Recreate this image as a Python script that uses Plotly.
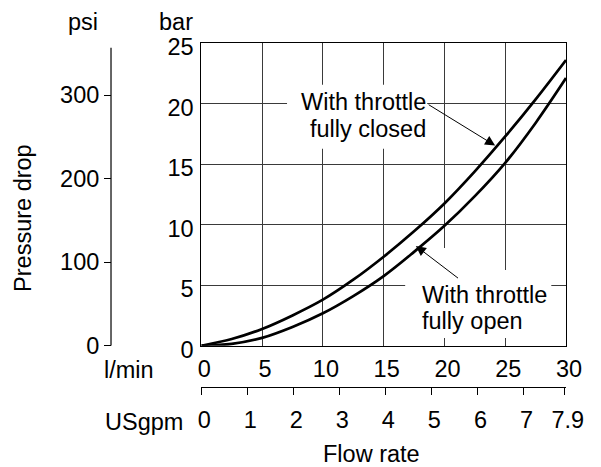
import plotly.graph_objects as go

# ---- data ----
flow_lpm = [0, 2.5, 5, 7.5, 10, 12.5, 15, 17.5, 20, 22.5, 25, 27.5, 30]
dp_closed_bar = [0, 0.55, 1.38, 2.5, 3.8, 5.45, 7.35, 9.45, 11.75, 14.4, 17.28, 20.35, 23.6]
dp_open_bar = [0, 0.15, 0.65, 1.55, 2.68, 4.1, 5.75, 7.75, 9.9, 12.35, 15.1, 18.4, 22.1]

bar_ticks = [0, 5, 10, 15, 20, 25]
psi_ticks = [0, 100, 200, 300]
lpm_ticks = [0, 5, 10, 15, 20, 25, 30]
gpm_ticks = [0, 1, 2, 3, 4, 5, 6, 7, 7.9]

label_closed = ["With throttle", "fully closed"]
label_open = ["With throttle", "fully open"]

PSI_PER_BAR = 14.5038
LPM_PER_GPM = 3.785411784

FONT = "Liberation Sans, Arial, Helvetica, sans-serif"
FS = 23.5

fig = go.Figure()
fig.add_trace(go.Scatter(x=flow_lpm, y=dp_closed_bar, mode="lines",
                         line=dict(color="black", width=2.7, shape="spline"),
                         hoverinfo="skip", showlegend=False))
fig.add_trace(go.Scatter(x=flow_lpm, y=dp_open_bar, mode="lines",
                         line=dict(color="black", width=2.7, shape="spline"),
                         hoverinfo="skip", showlegend=False))
# invisible traces to materialise secondary axes
fig.add_trace(go.Scatter(x=[0], y=[0], xaxis="x", yaxis="y2", mode="markers",
                         marker=dict(opacity=0), hoverinfo="skip", showlegend=False))
fig.add_trace(go.Scatter(x=[0], y=[0], xaxis="x2", yaxis="y", mode="markers",
                         marker=dict(opacity=0), hoverinfo="skip", showlegend=False))

PSI_POS = 0.135
fig.update_layout(
    width=601, height=467,
    margin=dict(l=32, r=43, t=35, b=45, autoexpand=False),
    paper_bgcolor="white", plot_bgcolor="rgba(0,0,0,0)",
    font=dict(family=FONT, size=FS, color="black"),
    xaxis=dict(domain=[0.3067, 1], range=[0, 30], tickvals=lpm_ticks,
               showgrid=True, gridcolor="#3a3a3a", gridwidth=1, zeroline=False,
               showline=True, linecolor="black", linewidth=1.2, mirror=True,
               ticks="", ticklabelstandoff=2, ticklabelshift=3, anchor="y",
               automargin=False),
    yaxis=dict(domain=[0.2178, 1], range=[0, 25], tickvals=bar_ticks,
               showgrid=True, gridcolor="#3a3a3a", gridwidth=1, zeroline=False,
               showline=True, linecolor="black", linewidth=1.2, mirror=True,
               ticks="", ticklabelstandoff=2, ticklabelshift=4, anchor="x",
               automargin=False),
    yaxis2=dict(overlaying="y", range=[0, 25 * PSI_PER_BAR],
                tickvals=psi_ticks, anchor="free", position=PSI_POS, side="left",
                showgrid=False, zeroline=False, showline=False,
                ticks="outside", ticklen=7, tickcolor="black", tickwidth=1.2,
                ticklabelstandoff=0, automargin=False),
    xaxis2=dict(overlaying="x", range=[0, 30 / LPM_PER_GPM], tickvals=gpm_ticks,
                ticktext=[str(v) for v in gpm_ticks],
                anchor="free", position=0.1103, side="bottom",
                showgrid=False, zeroline=False, showline=True, linecolor="black",
                linewidth=1.2, ticks="outside", ticklen=7, tickcolor="black",
                ticklabelstandoff=4, ticklabelshift=3, automargin=False),
)

# psi axis line (stops a little short of the top of the frame, as in the original)
fig.add_shape(type="line", xref="paper", yref="y", x0=PSI_POS, x1=PSI_POS,
              y0=0, y1=24.6, line=dict(color="black", width=1.2), layer="above")

# white boxes interrupting the grid behind the labels
for x0, x1, y0, y1 in [(7.05, 18.58, 16.26, 21.56), (16.77, 28.79, 0.64, 6.26),
                       (19.8, 20.2, 6.26, 8.08)]:
    fig.add_shape(type="rect", xref="x", yref="y", x0=x0, x1=x1, y0=y0, y1=y1,
                  fillcolor="white", line=dict(width=0), layer="between")

ann = []
def txt(x, y, s, xref="paper", yref="paper", xanchor="center", angle=0, yanchor="middle"):
    ann.append(dict(x=x, y=y, xref=xref, yref=yref, text=s, showarrow=False,
                    xanchor=xanchor, yanchor=yanchor, textangle=angle, borderpad=0,
                    font=dict(family=FONT, size=FS, color="black")))

txt(0.0808, 1.0904, "psi", yanchor="top")
txt(0.2586, 1.0904, "bar", yanchor="top")
txt(0.1683, 0.155, "l/min")
txt(0.1968, 0.0207, "USgpm")
txt(0.6306, -0.062, "Flow rate")
txt(-0.0323, 0.548, "Pressure drop", angle=-90)

txt(18.58, 20.11, label_closed[0], "x", "y", "right")
txt(18.58, 17.92, label_closed[1], "x", "y", "right")
txt(18.06, 4.22, label_open[0], "x", "y", "left")
txt(18.06, 2.02, label_open[1], "x", "y", "left")

for (hx, hy, tx, ty) in [(24.17, 16.53, 18.58, 19.98), (17.65, 8.24, 21.24, 5.49)]:
    ann.append(dict(x=hx, y=hy, ax=tx, ay=ty, xref="x", yref="y", axref="x", ayref="y",
                    text="", showarrow=True, arrowhead=2, arrowsize=2,
                    arrowwidth=1, arrowcolor="black", standoff=0))

fig.update_layout(annotations=ann)
fig.write_html("out.html")
